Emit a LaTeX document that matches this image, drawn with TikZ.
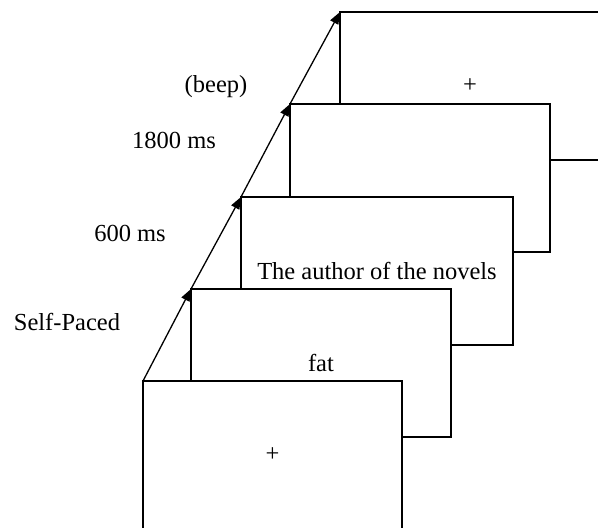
\documentclass[tikz,border=0pt]{standalone}
\usepackage{fontspec}
\setmainfont{Liberation Serif}
\usetikzlibrary{arrows.meta}
\begin{document}
\begin{tikzpicture}[x=1pt,y=-1pt,
  screen/.style={draw, line width=1.3pt, fill=white, rectangle,
    minimum width=260pt, minimum height=148pt, inner sep=0pt, outer sep=0pt,
    anchor=north west, font=\fontsize{24.5}{29}\selectfont},
  timeline/.style={line width=1.3pt, -{Triangle[length=12pt,width=9pt]}},
  phase/.style={font=\fontsize{24.5}{29}\selectfont, inner sep=0pt}]
  \useasboundingbox (0,0) rectangle (598,528);
  % screens, drawn from the last one to the first so each hides the one behind
  \node[screen] (s5) at (340,12)  {+};
  \node[screen] (s4) at (290,104) {};
  \node[screen, minimum width=272pt] (s3) at (241,197) {The author of the novels};
  \node[screen] (s2) at (191,289) {fat};
  \node[screen, minimum width=259pt] (s1) at (143,381) {+};
  % time line through the top left corners
  \draw[timeline] (s1.north west) -- (s2.north west);
  \draw[timeline] (s2.north west) -- (s3.north west);
  \draw[timeline] (s3.north west) -- (s4.north west);
  \draw[timeline] (s4.north west) -- (s5.north west);
  % durations
  \node[phase] (p1) at (67,322) {Self-Paced};
  \node[phase] (p2) at (130,233) {600 ms};
  \node[phase] (p3) at (174,140) {1800 ms};
  \node[phase] (p4) at (216,87)  {(beep)};
\end{tikzpicture}
\end{document}
